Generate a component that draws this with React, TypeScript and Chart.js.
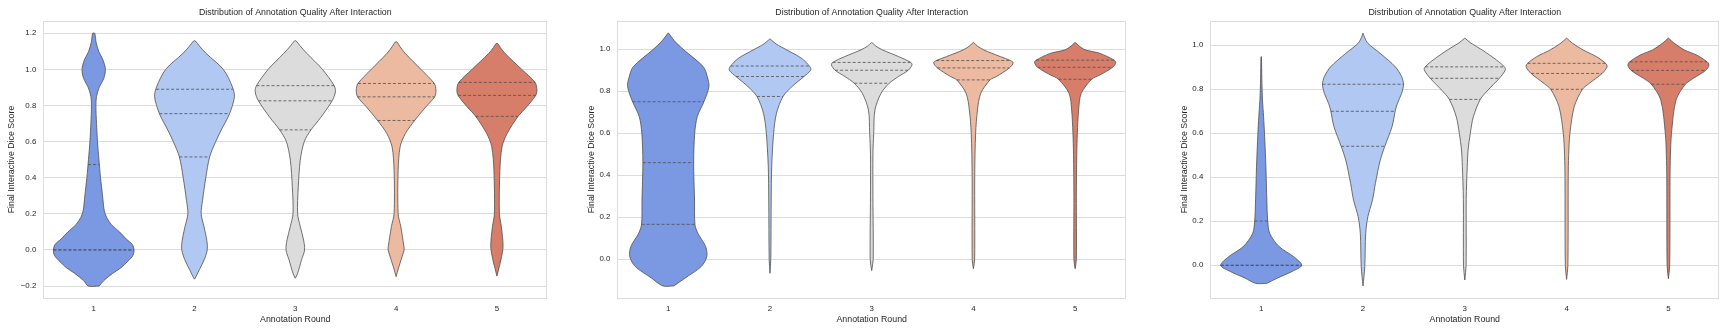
import React, { useEffect, useRef } from 'react';
import { Chart, registerables } from 'chart.js';

Chart.register(...registerables);

// ---------- data ----------
const ROUNDS = ['1', '2', '3', '4', '5'];
const TITLE = 'Distribution of Annotation Quality After Interaction';
const X_LABEL = 'Annotation Round';
const Y_LABEL = 'Final Interactive Dice Score';

const P1_Y_TICKS = [-0.2, 0, 0.2, 0.4, 0.6, 0.8, 1.0, 1.2];
const P1_Y_TICK_LABELS = ['\u22120.2', '0.0', '0.2', '0.4', '0.6', '0.8', '1.0', '1.2'];
const P23_Y_TICKS = [0, 0.2, 0.4, 0.6, 0.8, 1.0];
const P23_Y_TICK_LABELS = ['0.0', '0.2', '0.4', '0.6', '0.8', '1.0'];

const P1_Y_RANGE = [-0.268, 1.27];
const P2_Y_RANGE = [-0.186, 1.136];
const P3_Y_RANGE = [-0.15, 1.112];

// violin profiles: [score, relative density (1 = widest)]
const P1_R1 = [[-0.2, 0.136], [-0.17, 0.25], [-0.13, 0.47], [-0.1, 0.67], [-0.06, 0.86], [-0.03, 0.975], [0, 1], [0.03, 0.96], [0.06, 0.81], [0.1, 0.64], [0.14, 0.44], [0.18, 0.32], [0.22, 0.26], [0.3, 0.22], [0.4, 0.17], [0.5, 0.13], [0.6, 0.094], [0.7, 0.07], [0.8, 0.055], [0.85, 0.07], [0.9, 0.136], [0.95, 0.25], [1.0, 0.29], [1.05, 0.235], [1.1, 0.125], [1.15, 0.06], [1.2, 0.025]];
const P1_R2 = [[-0.16, 0.01], [-0.11, 0.12], [-0.055, 0.24], [0, 0.316], [0.046, 0.31], [0.13, 0.235], [0.2, 0.165], [0.275, 0.2], [0.4, 0.28], [0.515, 0.375], [0.6, 0.526], [0.663, 0.66], [0.755, 0.87], [0.848, 0.99], [0.903, 0.94], [1.0, 0.716], [1.088, 0.29], [1.13, 0.12], [1.158, 0.02]];
const P1_R3 = [[-0.157, 0.0], [-0.13, 0.057], [-0.055, 0.155], [0, 0.23], [0.055, 0.205], [0.13, 0.123], [0.2, 0.057], [0.35, 0.074], [0.497, 0.123], [0.6, 0.222], [0.665, 0.388], [0.735, 0.635], [0.826, 0.914], [0.875, 0.995], [0.91, 0.963], [1.0, 0.674], [1.088, 0.289], [1.13, 0.12], [1.158, 0.02]];
const P1_R4 = [[-0.148, 0.0], [-0.1, 0.06], [-0.055, 0.123], [0, 0.198], [0.02, 0.193], [0.13, 0.116], [0.2, 0.05], [0.44, 0.05], [0.571, 0.1], [0.645, 0.23], [0.717, 0.46], [0.793, 0.74], [0.848, 0.956], [0.885, 0.988], [0.922, 0.946], [1.0, 0.617], [1.088, 0.23], [1.125, 0.1], [1.152, 0.02]];
const P1_R5 = [[-0.145, 0.0], [-0.1, 0.05], [-0.055, 0.1], [0.02, 0.153], [0.13, 0.11], [0.2, 0.062], [0.44, 0.074], [0.571, 0.128], [0.645, 0.254], [0.74, 0.526], [0.793, 0.74], [0.856, 0.963], [0.885, 0.993], [0.928, 0.946], [1.0, 0.617], [1.088, 0.205], [1.12, 0.09], [1.143, 0.02]];

const P2_R1 = [[-0.127, 0.135], [-0.09, 0.41], [-0.035, 0.81], [0.012, 0.946], [0.06, 0.92], [0.124, 0.727], [0.166, 0.656], [0.282, 0.646], [0.46, 0.624], [0.6, 0.65], [0.679, 0.713], [0.75, 0.877], [0.822, 1.0], [0.87, 0.958], [0.917, 0.86], [0.997, 0.383], [1.04, 0.15], [1.076, 0.01]];
const P2_R2 = [[-0.067, 0.0], [0, 0.02], [0.282, 0.03], [0.44, 0.042], [0.6, 0.09], [0.695, 0.16], [0.775, 0.32], [0.822, 0.54], [0.87, 0.835], [0.9, 1.0], [0.917, 0.98], [0.957, 0.774], [0.997, 0.41], [1.025, 0.15], [1.048, 0.01]];
const P2_R3 = [[-0.054, 0.0], [0, 0.037], [0.3, 0.03], [0.5, 0.03], [0.6, 0.05], [0.711, 0.08], [0.79, 0.23], [0.838, 0.43], [0.87, 0.66], [0.9, 0.9], [0.925, 0.99], [0.937, 0.96], [0.965, 0.66], [0.997, 0.263], [1.015, 0.1], [1.031, 0.01]];
const P2_R4 = [[-0.045, 0.0], [0, 0.03], [0.4, 0.032], [0.6, 0.054], [0.711, 0.1], [0.79, 0.18], [0.854, 0.41], [0.87, 0.565], [0.911, 0.885], [0.935, 0.978], [0.946, 0.914], [0.965, 0.66], [0.997, 0.25], [1.015, 0.1], [1.031, 0.01]];
const P2_R5 = [[-0.045, 0.0], [0, 0.03], [0.3, 0.03], [0.5, 0.04], [0.6, 0.054], [0.711, 0.086], [0.79, 0.15], [0.857, 0.41], [0.878, 0.614], [0.914, 0.924], [0.937, 1.0], [0.948, 0.958], [0.98, 0.614], [0.997, 0.25], [1.015, 0.1], [1.031, 0.01]];

const P3_R1 = [[-0.082, 0.14], [-0.058, 0.4], [-0.028, 0.76], [0, 0.995], [0.039, 0.8], [0.085, 0.44], [0.145, 0.21], [0.201, 0.16], [0.297, 0.138], [0.449, 0.115], [0.6, 0.081], [0.675, 0.059], [0.751, 0.032], [0.85, 0.015], [0.948, 0.005]];
const P3_R2 = [[-0.094, 0.0], [-0.006, 0.044], [0.145, 0.066], [0.221, 0.12], [0.297, 0.233], [0.373, 0.305], [0.479, 0.425], [0.541, 0.536], [0.63, 0.713], [0.7, 0.79], [0.736, 0.845], [0.782, 0.95], [0.823, 0.995], [0.857, 0.95], [0.902, 0.796], [0.963, 0.425], [1.009, 0.12], [1.035, 0.04], [1.055, 0.0]];
const P3_R3 = [[-0.067, 0.0], [0, 0.032], [0.3, 0.035], [0.45, 0.06], [0.524, 0.081], [0.6, 0.135], [0.675, 0.209], [0.754, 0.38], [0.797, 0.572], [0.85, 0.848], [0.888, 0.995], [0.902, 0.973], [0.933, 0.78], [0.979, 0.425], [1.01, 0.15], [1.032, 0.005]];
const P3_R4 = [[-0.064, 0.0], [0, 0.032], [0.4, 0.04], [0.5, 0.05], [0.6, 0.081], [0.721, 0.187], [0.8, 0.388], [0.827, 0.558], [0.872, 0.872], [0.902, 0.995], [0.918, 0.958], [0.948, 0.737], [0.979, 0.403], [1.01, 0.14], [1.032, 0.005]];
const P3_R5 = [[-0.061, 0.0], [0, 0.032], [0.4, 0.04], [0.5, 0.05], [0.6, 0.076], [0.751, 0.187], [0.823, 0.418], [0.85, 0.614], [0.886, 0.916], [0.91, 0.995], [0.925, 0.95], [0.956, 0.69], [0.979, 0.39], [1.01, 0.14], [1.032, 0.005]];

// quartiles [Q1, median, Q3] per round
const P1_QUARTILES = [[0, 0, 0.473], [0.515, 0.755, 0.89], [0.665, 0.826, 0.91], [0.717, 0.848, 0.922], [0.74, 0.856, 0.928]];
const P2_QUARTILES = [[0.166, 0.46, 0.75], [0.775, 0.87, 0.92], [0.838, 0.9, 0.937], [0.854, 0.911, 0.946], [0.857, 0.914, 0.948]];
const P3_QUARTILES = [[0, 0, 0.201], [0.541, 0.7, 0.823], [0.754, 0.85, 0.902], [0.8, 0.872, 0.918], [0.823, 0.886, 0.925]];

// ---------- style / layout ----------
const COLORS = ['#7b98e2', '#b1c8f2', '#dcdcdc', '#ecbaa1', '#d67e6a'];
const OUTLINE = '#4f4f4f';
const GRID = '#dcdcdc';
const TEXT = '#262626';
const FONT = '"Liberation Sans", Arial, Helvetica, sans-serif';
const HALF_WIDTH = 0.4;

const PANELS = [
  { left: 0, width: 565, yAxisW: 43.3, yTitlePad: 6.7, padRight: 17.7, range: P1_Y_RANGE, ticks: P1_Y_TICKS, tickLabels: P1_Y_TICK_LABELS, profiles: [P1_R1, P1_R2, P1_R3, P1_R4, P1_R5], quartiles: P1_QUARTILES },
  { left: 565, width: 585, yAxisW: 52.4, yTitlePad: 21.7, padRight: 24, range: P2_Y_RANGE, ticks: P23_Y_TICKS, tickLabels: P23_Y_TICK_LABELS, profiles: [P2_R1, P2_R2, P2_R3, P2_R4, P2_R5], quartiles: P2_QUARTILES },
  { left: 1150, width: 580, yAxisW: 60.3, yTitlePad: 29.4, padRight: 10.7, range: P3_Y_RANGE, ticks: P23_Y_TICKS, tickLabels: P23_Y_TICK_LABELS, profiles: [P3_R1, P3_R2, P3_R3, P3_R4, P3_R5], quartiles: P3_QUARTILES },
];
const H = 335;

function densityAt(profile: number[][], v: number) {
  for (let i = 0; i < profile.length - 1; i++) {
    const [v0, d0] = profile[i];
    const [v1, d1] = profile[i + 1];
    if (v >= v0 && v <= v1) {
      const t = v1 === v0 ? 0 : (v - v0) / (v1 - v0);
      return d0 + t * (d1 - d0);
    }
  }
  return 0;
}

const framePlugin = {
  id: 'frame',
  beforeDatasetsDraw(chart: any) {
    const { ctx, chartArea: a } = chart;
    ctx.save();
    ctx.strokeStyle = GRID;
    ctx.lineWidth = 1;
    ctx.strokeRect(Math.round(a.left) + 0.5, Math.round(a.top) + 0.5, Math.round(a.right - a.left) - 1, Math.round(a.bottom - a.top) - 1);
    ctx.restore();
  },
};

function buildConfig(p: any): any {
  const datasets: any[] = [];
  p.profiles.forEach((prof: number[][], i: number) => {
    const right = prof.map(([v, d]) => ({ x: i + HALF_WIDTH * d, y: v }));
    const left = prof.slice().reverse().map(([v, d]) => ({ x: i - HALF_WIDTH * d, y: v }));
    datasets.push({
      data: [...right, ...left, right[0]],
      borderColor: OUTLINE,
      borderWidth: 0.8,
      backgroundColor: COLORS[i],
      fill: 'shape',
      pointRadius: 0,
      tension: 0.3,
      order: 2,
    });
  });
  p.quartiles.forEach((qs: number[], i: number) => {
    qs.forEach((q) => {
      const d = densityAt(p.profiles[i], q);
      datasets.push({
        data: [{ x: i - HALF_WIDTH * d, y: q }, { x: i + HALF_WIDTH * d, y: q }],
        borderColor: OUTLINE,
        borderWidth: 0.8,
        borderDash: [3, 2],
        fill: false,
        pointRadius: 0,
        order: 1,
      });
    });
  });

  return {
    type: 'line',
    data: { datasets },
    options: {
      animation: false,
      responsive: false,
      devicePixelRatio: 1,
      events: [],
      layout: { padding: { left: 0, right: p.padRight, top: 0, bottom: 0 } },
      plugins: {
        legend: { display: false },
        tooltip: { enabled: false },
        title: {
          display: true,
          text: TITLE,
          fullSize: false,
          color: TEXT,
          font: { family: FONT, size: 8.8, weight: 'normal', lineHeight: 1.2 },
          padding: { top: 7.7, bottom: 2.4 },
        },
      },
      scales: {
        x: {
          type: 'linear',
          min: -0.5,
          max: 4.5,
          grid: { display: false, drawTicks: false },
          border: { display: false },
          afterBuildTicks: (s: any) => { s.ticks = ROUNDS.map((_, i) => ({ value: i })); },
          afterFit: (s: any) => { s.height = 36.7; },
          ticks: {
            autoSkip: false,
            maxRotation: 0,
            padding: 5.3,
            color: TEXT,
            font: { family: FONT, size: 7.9 },
            callback: (v: number) => ROUNDS[Math.round(v)],
          },
          title: {
            display: true,
            text: X_LABEL,
            color: TEXT,
            font: { family: FONT, size: 8.8, lineHeight: 1.2 },
            padding: { top: 0, bottom: 10.3 },
          },
        },
        y: {
          type: 'linear',
          min: p.range[0],
          max: p.range[1],
          grid: { color: GRID, lineWidth: 1, drawTicks: false },
          border: { display: false },
          afterBuildTicks: (s: any) => { s.ticks = p.ticks.map((v: number) => ({ value: v })); },
          afterFit: (s: any) => { s.width = p.yAxisW; },
          ticks: {
            autoSkip: false,
            padding: 7,
            color: TEXT,
            font: { family: FONT, size: 7.9 },
            callback: (_v: number, idx: number) => p.tickLabels[idx],
          },
          title: {
            display: true,
            text: Y_LABEL,
            color: TEXT,
            font: { family: FONT, size: 8.8, lineHeight: 1.2 },
            padding: { top: p.yTitlePad, bottom: 0 },
          },
        },
      },
    },
    plugins: [framePlugin],
  };
}

function Panel({ p }: { p: any }) {
  const ref = useRef<HTMLCanvasElement | null>(null);
  useEffect(() => {
    if (!ref.current) return;
    const chart = new Chart(ref.current, buildConfig(p));
    return () => chart.destroy();
  }, [p]);
  return (
    <canvas
      ref={ref}
      width={p.width}
      height={H}
      style={{ position: 'absolute', left: p.left, top: 0, width: p.width, height: H }}
    />
  );
}

export default function App() {
  return (
    <div style={{ position: 'fixed', left: 0, top: 0, width: 1730, height: H, background: '#ffffff', overflow: 'hidden' }}>
      {PANELS.map((p, i) => (
        <Panel key={i} p={p} />
      ))}
    </div>
  );
}
